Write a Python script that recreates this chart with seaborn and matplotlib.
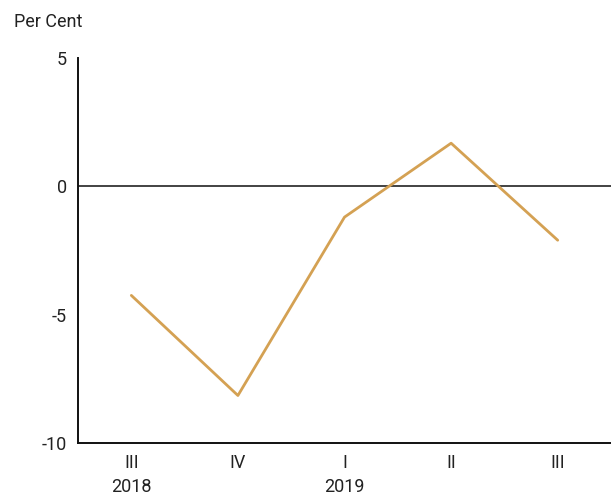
import matplotlib
matplotlib.use("Agg")
import matplotlib.pyplot as plt
import seaborn as sns
import pandas as pd

quarters = ["III", "IV", "I", "II", "III"]
years = ["2018", "", "2019", "", ""]
values = [-4.25, -8.15, -1.2, 1.68, -2.1]

sns.set_theme(style="white")
plt.rcParams['font.family'] = ['Roboto', 'DejaVu Sans']

df = pd.DataFrame({"pos": range(len(values)), "value": values})

fig = plt.figure(figsize=(6.11, 4.96), dpi=100)
ax = fig.add_axes([0.1277, 0.1069, 0.8723, 0.7762])

sns.lineplot(data=df, x="pos", y="value", color="#d4a153", linewidth=2, ax=ax)
ax.axhline(0, color="#222222", linewidth=1.2, zorder=1)

ax.set_xlim(-0.5, 4.5)
ax.set_ylim(-10, 5)
ax.set_yticks([5, 0, -5, -10])
ax.set_yticklabels(["5", "0", "-5", "-10"])
ax.set_xticks(range(len(quarters)))
ax.set_xticklabels([q + ("\n" + y if y else "") for q, y in zip(quarters, years)],
                   va="top")
for lbl in ax.get_xticklabels():
    lbl.set_linespacing(1.45)
ax.tick_params(axis="both", length=0, labelsize=13, colors="#222222")
ax.tick_params(axis="x", pad=8)
ax.tick_params(axis="y", pad=8)
ax.set_xlabel("")
ax.set_ylabel("")

for side in ["top", "right"]:
    ax.spines[side].set_visible(False)
for side in ["left", "bottom"]:
    ax.spines[side].set_color("#111111")
    ax.spines[side].set_linewidth(1.4)

fig.text(14 / 611, 1 - 22 / 496, "Per Cent", fontsize=13, color="#222222", va="center")

fig.savefig("out.png", dpi=100)
